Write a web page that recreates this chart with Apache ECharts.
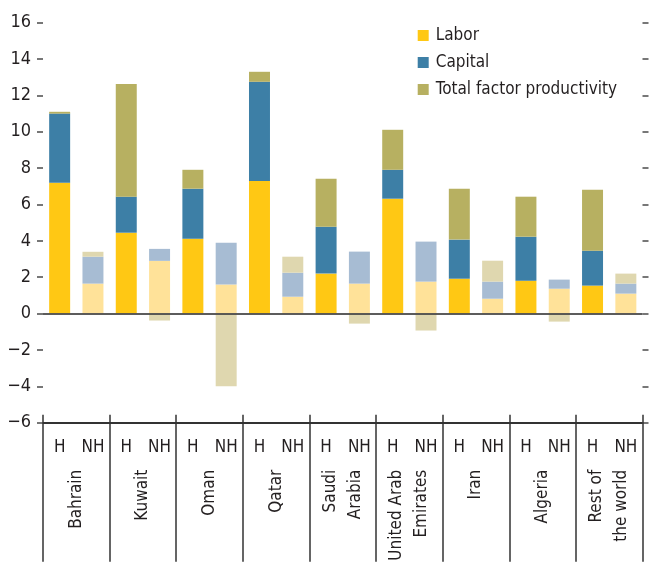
<!DOCTYPE html>
<html>
<head>
<meta charset="utf-8" />
<title>Growth decomposition</title>
<script src="https://cdn.jsdelivr.net/npm/echarts@6/dist/echarts.min.js"></script>
<style>
  html, body { margin: 0; padding: 0; background: #fff; }
  #chart { width: 649px; height: 584px; }
</style>
</head>
<body>
<div id="chart"></div>
<script>
// 数据
const countries = ["Bahrain", "Kuwait", "Oman", "Qatar", "Saudi\nArabia", "United Arab\nEmirates", "Iran", "Algeria", "Rest of\nthe world"];
const barLabels = ["H", "NH", "H", "NH", "H", "NH", "H", "NH", "H", "NH", "H", "NH", "H", "NH", "H", "NH", "H", "NH"];
const labor = [7.2, 1.65, 4.45, 2.9, 4.12, 1.6, 7.3, 0.93, 2.2, 1.65, 6.32, 1.76, 1.92, 0.82, 1.81, 1.37, 1.54, 1.1];
const capital = [3.8, 1.48, 1.98, 0.66, 2.75, 2.3, 5.45, 1.32, 2.58, 1.76, 1.59, 2.2, 2.15, 0.94, 2.42, 0.5, 1.92, 0.55];
const tfp = [0.1, 0.27, 6.2, -0.38, 1.04, -4.0, 0.55, 0.88, 2.64, -0.55, 2.2, -0.93, 2.8, 1.15, 2.2, -0.44, 3.35, 0.55];
const yTicks = [-6, -4, -2, 0, 2, 4, 6, 8, 10, 12, 14, 16];

const FONT = "'DejaVu Sans Condensed', 'Liberation Sans Narrow', 'Arial Narrow', sans-serif";
const TEXT = "#231f20";

// H 用深色, NH 用浅色
const colors = {
  labor: ["#ffc814", "#ffe299"],
  capital: ["#3d7fa6", "#a7bcd3"],
  tfp: ["#b7b061", "#dfd7af"],
};

const toItems = (values, pair) =>
  values.map((v, i) => ({ value: v, itemStyle: { color: pair[i % 2] } }));

const barSeries = (name, values, pair) => ({
  name: name,
  type: "bar",
  stack: "total",
  xAxisIndex: 0,
  barCategoryGap: "37%",
  itemStyle: { color: pair[0] },
  data: toItems(values, pair),
});

var option = {
  animation: false,
  textStyle: { fontFamily: FONT },
  legend: {
    orient: "vertical",
    left: 412.7,
    top: 22,
    itemWidth: 11,
    itemHeight: 11,
    itemGap: 10,
    icon: "rect",
    textStyle: { fontSize: 17, color: TEXT, fontFamily: FONT, padding: [0, 0, 0, 2] },
    data: ["Labor", "Capital", "Total factor productivity"],
  },
  grid: {
    left: 43,
    right: 6.5,
    top: 22.7,
    bottom: 161.3,
    outerBoundsMode: "none",
  },
  xAxis: [
    {
      // H / NH
      type: "category",
      data: barLabels,
      position: "bottom",
      axisLine: { show: true, onZero: false, lineStyle: { color: "#333", width: 2 } },
      axisTick: {
        show: true,
        length: 139,
        interval: (i) => i % 2 === 0,
        lineStyle: { color: "#333", width: 1.5 },
      },
      axisLabel: { interval: 0, margin: 16, fontSize: 17, color: TEXT, fontFamily: FONT },
    },
    {
      // 分组短刻度（轴线上方）
      type: "category",
      data: barLabels,
      position: "bottom",
      axisLine: { show: false, onZero: false },
      axisTick: {
        show: true,
        inside: true,
        length: 8,
        interval: (i) => i % 2 === 0,
        lineStyle: { color: "#333", width: 1.5 },
      },
      axisLabel: { show: false },
    },
    {
      // 国家名
      type: "category",
      data: countries,
      position: "bottom",
      axisLine: { show: false, onZero: false },
      axisTick: { show: false },
      axisLabel: {
        interval: 0,
        rotate: 90,
        margin: 47,
        fontSize: 17,
        lineHeight: 25,
        color: TEXT,
        fontFamily: FONT,
      },
    },
  ],
  yAxis: [
    {
      type: "value",
      min: yTicks[0],
      max: yTicks[yTicks.length - 1],
      interval: 2,
      position: "left",
      axisLine: { show: false },
      axisTick: { show: true, length: 6, lineStyle: { color: "#777", width: 2 } },
      splitLine: { show: false },
      axisLabel: {
        margin: 12,
        fontSize: 18,
        color: TEXT,
        fontFamily: FONT,
        formatter: (v) => String(v).replace("-", "\u2212"),
      },
    },
    {
      type: "value",
      min: yTicks[0],
      max: yTicks[yTicks.length - 1],
      interval: 2,
      position: "right",
      axisLine: { show: false },
      axisTick: { show: true, length: 6, lineStyle: { color: "#777", width: 2 } },
      splitLine: { show: false },
      axisLabel: { show: false },
    },
  ],
  series: [
    barSeries("Labor", labor, colors.labor),
    barSeries("Capital", capital, colors.capital),
    Object.assign(barSeries("Total factor productivity", tfp, colors.tfp), {
      // 零线
      markLine: {
        silent: true,
        symbol: "none",
        label: { show: false },
        lineStyle: { color: "#4a4a4a", width: 2, type: "solid", opacity: 0.9 },
        data: [{ yAxis: 0 }],
      },
    }),
  ],
};

const chart = echarts.init(document.getElementById("chart"));
chart.setOption(option);
</script>
</body>
</html>
